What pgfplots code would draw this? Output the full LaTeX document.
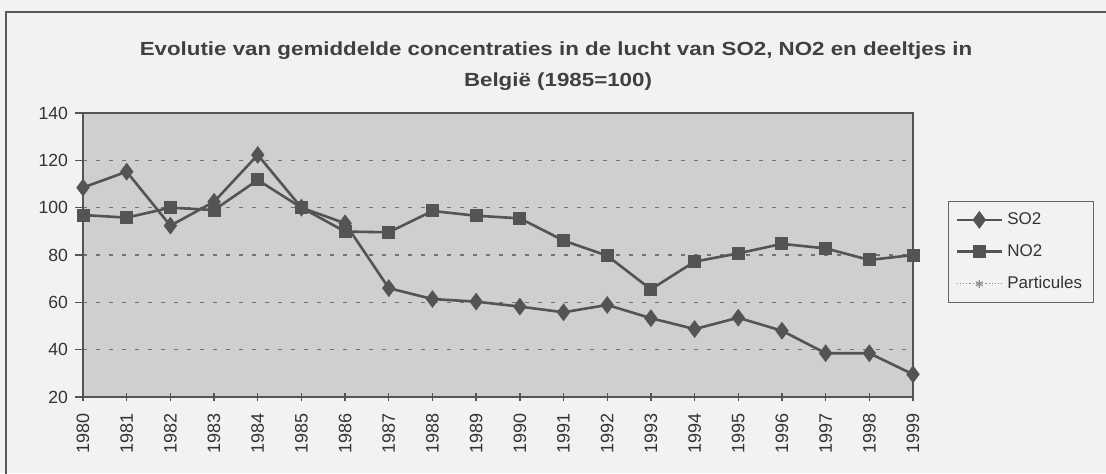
\documentclass[border=0pt]{standalone}
\usepackage{pgfplots}
\pgfplotsset{compat=1.18}
\usepackage{fontspec}
\setmainfont{Liberation Sans}
\definecolor{linec}{gray}{0.33}
\definecolor{plotbg}{gray}{0.81}
\definecolor{pagebg}{gray}{0.95}
\begin{document}
\begin{tikzpicture}
\useasboundingbox (0pt,0pt) rectangle (553pt,236.5pt);
\fill[pagebg] (0pt,0pt) rectangle (553pt,236.5pt);
\begin{scope}
\clip (0pt,0pt) rectangle (553pt,236.5pt);
\draw[gray!70!black, line width=0.8pt] (3pt,-5pt) rectangle (560pt,230.5pt);
\end{scope}
\node[font=\fontsize{9.5}{15.5}\selectfont\bfseries, text=black!75, align=center, inner sep=0pt, anchor=base] at (278pt,209pt)
  {\scalebox{1.175}[1]{Evolutie van gemiddelde concentraties in de lucht van SO2, NO2 en deeltjes in}};
\node[font=\fontsize{9.5}{15.5}\selectfont\bfseries, text=black!75, inner sep=0pt, anchor=base] at (279pt,193.5pt)
  {\scalebox{1.175}[1]{België (1985=100)}};
\begin{axis}[
  at={(41.5pt,38pt)}, anchor=south west,
  scale only axis, width=415pt, height=142pt,
  xmin=1980, xmax=1999, ymin=20, ymax=140,
  xtick={1980,1981,...,1999}, ytick={20,40,...,140},
  /pgf/number format/assume math mode=true,
  x tick label style={/pgf/number format/1000 sep={}, rotate=90, anchor=east, font=\fontsize{9}{10}\selectfont, text=black!80},
  xticklabel shift=2.5pt,
  y tick label style={font=\fontsize{8.8}{10}\selectfont, text=black!80},
  axis background/.style={fill=plotbg},
  axis line style={linec, line width=0.9pt},
  major tick style={linec, line width=0.7pt},
  xtick align=center, ytick align=outside,
  major tick length=4pt,
  xtick pos=bottom, ytick pos=left,
  ymajorgrids,
  grid style={black!55, dash pattern=on 2pt off 4.5pt, line width=0.6pt},
  legend style={at={(1.042,0.69)}, anchor=north west, draw=black!60, fill=pagebg,
    font=\fontsize{8.5}{10}\selectfont, text=black!80, row sep=4.5pt, inner sep=3.5pt,
    cells={anchor=west}},
  legend image code/.code={\draw[mark repeat=2,mark phase=2] plot coordinates {(0cm,0cm)(0.4cm,0cm)(0.8cm,0cm)};},
]
\addplot[linec, line width=1.3pt, mark=diamond*, mark size=3.4pt, mark options={solid, fill=linec}] coordinates {
(1980,108.5) (1981,115.2) (1982,92.4) (1983,102.5) (1984,122.3) (1985,100) (1986,93.4) (1987,66)
(1988,61.4) (1989,60.3) (1990,58.2) (1991,55.8) (1992,58.9) (1993,53.3) (1994,48.7) (1995,53.5)
(1996,48.0) (1997,38.5) (1998,38.5) (1999,29.6)};
\addlegendentry{SO2}
\addplot[linec, line width=1.3pt, mark=square*, mark size=2.6pt, mark options={solid, fill=linec}] coordinates {
(1980,96.9) (1981,95.8) (1982,100) (1983,99) (1984,111.7) (1985,100) (1986,89.9) (1987,89.6)
(1988,98.6) (1989,96.6) (1990,95.5) (1991,86.1) (1992,79.7) (1993,65.5) (1994,77.2) (1995,80.7)
(1996,84.7) (1997,82.8) (1998,77.9) (1999,80)};
\addlegendentry{NO2}
\addlegendimage{black!45, densely dotted, line width=0.6pt, mark=asterisk, mark size=2pt, mark options={solid}}
\addlegendentry{Particules}
\end{axis}
\end{tikzpicture}
\end{document}
